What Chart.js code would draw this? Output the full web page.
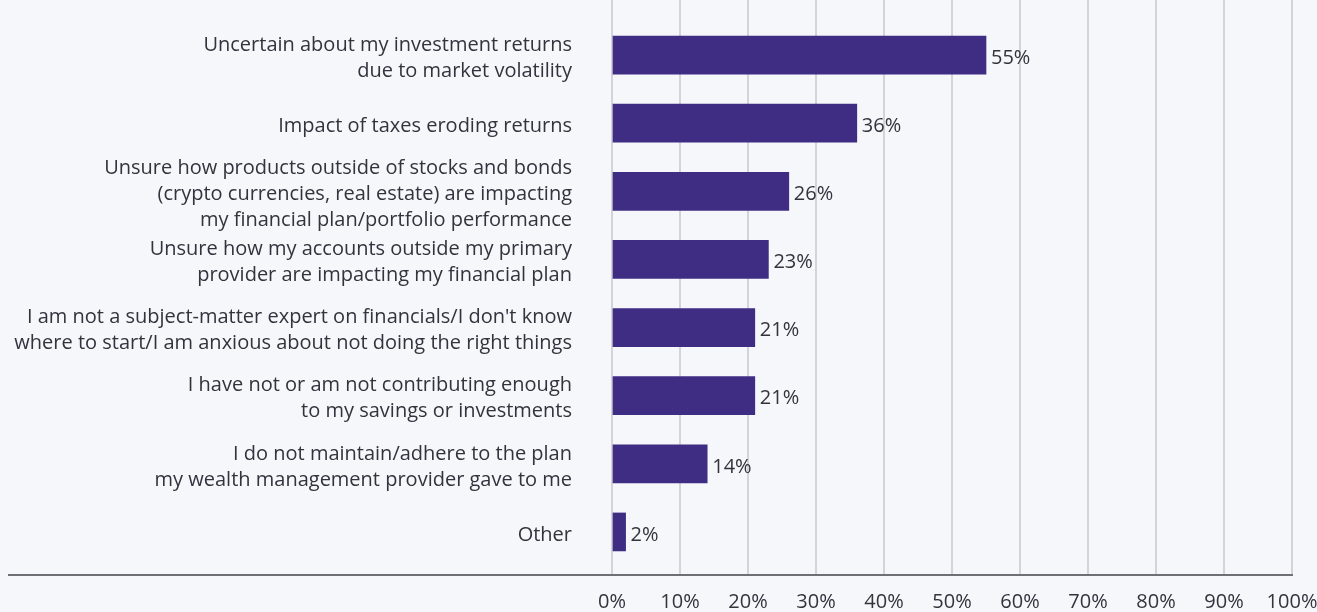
<!DOCTYPE html>
<html>
<head>
<meta charset="utf-8">
<script src="https://cdn.jsdelivr.net/npm/chart.js@4.4.1/dist/chart.umd.min.js"></script>
<style>
  html, body { margin: 0; padding: 0; background: #f6f7fb; }
  #wrap { width: 1317px; height: 612px; position: relative; }
</style>
</head>
<body>
<div id="wrap"><canvas id="c"></canvas></div>
<script>
const categories = [
  ["Uncertain about my investment returns", "due to market volatility"],
  "Impact of taxes eroding returns",
  ["Unsure how products outside of stocks and bonds", "(crypto currencies, real estate) are impacting", "my financial plan/portfolio performance"],
  ["Unsure how my accounts outside my primary", "provider are impacting my financial plan"],
  ["I am not a subject-matter expert on financials/I don't know", "where to start/I am anxious about not doing the right things"],
  ["I have not or am not contributing enough", "to my savings or investments"],
  ["I do not maintain/adhere to the plan", "my wealth management provider gave to me"],
  "Other"
];
const values = [55, 36, 26, 23, 21, 21, 14, 2];
const xTicks = [0, 10, 20, 30, 40, 50, 60, 70, 80, 90, 100];

const TEXT = '#33333d';
const FONT = '"Open Sans"';

const valueLabels = {
  id: 'valueLabels',
  afterDatasetsDraw(chart) {
    const ctx = chart.ctx;
    const meta = chart.getDatasetMeta(0);
    ctx.save();
    ctx.font = '20px ' + FONT;
    ctx.fillStyle = TEXT;
    ctx.textAlign = 'left';
    ctx.textBaseline = 'middle';
    meta.data.forEach((bar, i) => {
      ctx.fillText(values[i] + '%', bar.x + 5, bar.y + 3);
    });
    ctx.restore();
  }
};

const frame = {
  id: 'frame',
  beforeDatasetsDraw(chart) {
    const ctx = chart.ctx;
    const xs = chart.scales.x;
    const area = chart.chartArea;
    const base = area.bottom + 9;
    ctx.save();
    ctx.strokeStyle = '#d3d3d9';
    ctx.lineWidth = 2;
    xTicks.forEach(v => {
      const px = Math.round(xs.getPixelForValue(v));
      ctx.beginPath();
      ctx.moveTo(px, 0);
      ctx.lineTo(px, area.top);
      ctx.moveTo(px, area.bottom);
      ctx.lineTo(px, base);
      ctx.stroke();
    });
    ctx.restore();
  },
  afterDatasetsDraw(chart) {
    const ctx = chart.ctx;
    const area = chart.chartArea;
    const base = area.bottom + 9;
    ctx.save();
    ctx.strokeStyle = '#6f6f78';
    ctx.lineWidth = 2;
    ctx.beginPath();
    ctx.moveTo(8, base);
    ctx.lineTo(area.right + 1, base);
    ctx.stroke();
    ctx.restore();
  }
};

new Chart(document.getElementById('c'), {
  type: 'bar',
  data: {
    labels: categories,
    datasets: [{
      data: values,
      backgroundColor: '#3f2d83',
      borderWidth: 0,
      barThickness: 38
    }]
  },
  options: {
    indexAxis: 'y',
    responsive: true,
    maintainAspectRatio: false,
    animation: false,
    layout: { padding: { top: 21, left: 0, right: 0, bottom: 0 } },
    plugins: {
      legend: { display: false },
      tooltip: { enabled: false },
      title: { display: false }
    },
    scales: {
      x: {
        min: 0,
        max: 100,
        afterBuildTicks(scale) { scale.ticks = xTicks.map(v => ({ value: v })); },
        afterFit(scale) {
          scale.height = 46;
          scale.paddingLeft = 0;
          scale.paddingRight = 25;
        },
        ticks: {
          callback: v => v + '%',
          color: TEXT,
          font: { family: FONT, size: 20, lineHeight: 1.2 },
          padding: 24,
          maxRotation: 0,
          autoSkip: false
        },
        grid: { color: '#d3d3d9', lineWidth: 2, drawTicks: false },
        border: { display: false }
      },
      y: {
        afterFit(scale) {
          scale.width = 612;
          scale.paddingTop = 0;
          scale.paddingBottom = 0;
        },
        ticks: {
          color: TEXT,
          font: { family: FONT, size: 20, lineHeight: 1.3 },
          padding: 40,
          labelOffset: 3,
          autoSkip: false
        },
        grid: { display: false, drawTicks: false },
        border: { display: false }
      }
    }
  },
  plugins: [frame, valueLabels]
});
</script>
</body>
</html>
